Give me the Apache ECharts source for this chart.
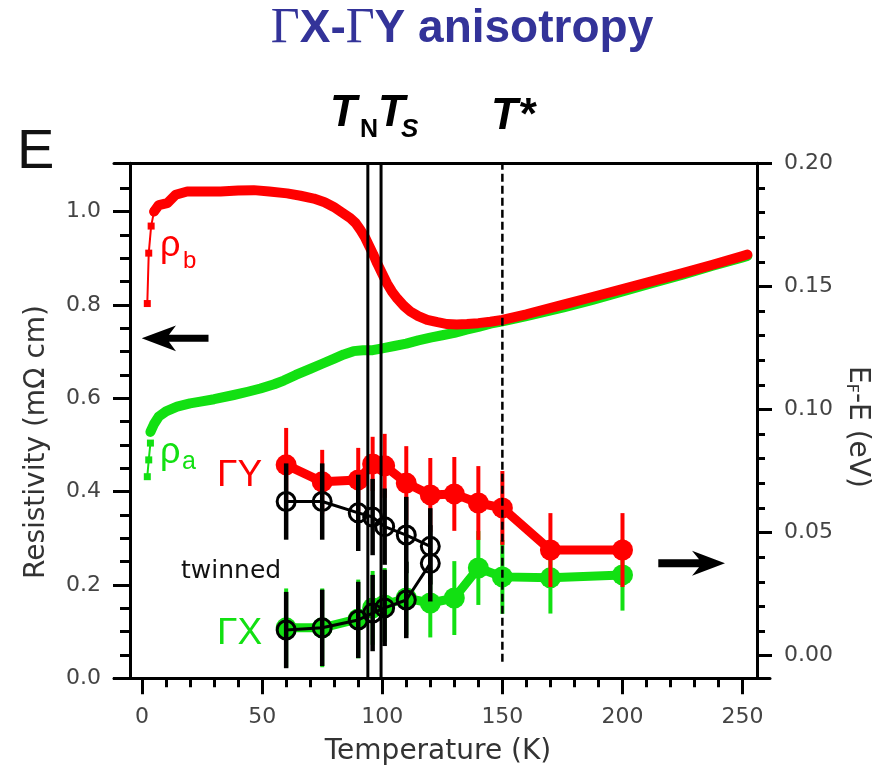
<!DOCTYPE html>
<html><head><meta charset="utf-8">
<script src="https://cdn.jsdelivr.net/npm/echarts@6/dist/echarts.min.js"></script>
<style>html,body{margin:0;padding:0;background:#fff}#c{width:882px;height:774px}</style>
</head><body><div id="c"></div>
<script>
// ---------- data ----------
// resistivity rho_b (red), low-T measured points and smooth curve
const rhoBLowT = [2.2, 2.8, 3.8, 5];
const rhoBLow  = [0.803, 0.911, 0.969, 1.000];
const rhoBT = [5, 7, 10.5, 14, 18.8, 25, 32.7, 40, 46.5, 53, 60.4, 66, 71.5, 76, 79.8, 83, 86.7, 89, 90.9, 92.7, 94.4, 96.2, 97.9, 100, 102, 104, 106.2, 109, 111.7, 115, 118.7, 123, 127, 131, 135.3, 140, 145, 150, 160, 175, 187.5, 200, 212.5, 225, 237.5, 250, 252];
const rhoB  = [1.000, 1.014, 1.018, 1.036, 1.043, 1.043, 1.043, 1.045, 1.046, 1.043, 1.039, 1.034, 1.028, 1.020, 1.010, 0.999, 0.986, 0.975, 0.961, 0.946, 0.928, 0.909, 0.889, 0.867, 0.846, 0.829, 0.814, 0.798, 0.786, 0.776, 0.768, 0.763, 0.759, 0.758, 0.759, 0.761, 0.764, 0.768, 0.780, 0.800, 0.817, 0.834, 0.851, 0.868, 0.886, 0.905, 0.908];
// resistivity rho_a (green)
const rhoALowT = [2.2, 2.8, 3.5];
const rhoALow  = [0.432, 0.468, 0.504];
const rhoAT = [3.5, 5, 7, 10, 14.6, 20, 24.3, 30, 38.2, 44, 49.3, 55, 59, 64, 70, 75, 80, 84, 88, 92, 96, 100, 105, 110, 115, 120, 125, 130, 135, 140, 145, 150, 160, 175, 187.5, 200, 212.5, 225, 237.5, 250, 252];
const rhoA  = [0.528, 0.545, 0.561, 0.572, 0.582, 0.589, 0.593, 0.598, 0.607, 0.614, 0.621, 0.630, 0.638, 0.650, 0.663, 0.674, 0.685, 0.694, 0.701, 0.703, 0.703, 0.707, 0.712, 0.717, 0.724, 0.730, 0.735, 0.740, 0.747, 0.753, 0.760, 0.765, 0.776, 0.794, 0.811, 0.829, 0.847, 0.865, 0.884, 0.902, 0.905];
// ARPES band positions E_F - E (eV)
const arpesT = [60, 75, 90, 96, 101, 110, 120, 130, 140, 150, 170, 200];
const gammaY    = [0.0775, 0.0706, 0.0714, 0.0779, 0.0771, 0.0701, 0.0653, 0.0657, 0.0620, 0.0600, 0.0429, 0.0429];
const gammaYErr = [0.015, 0.013, 0.013, 0.011, 0.013, 0.015, 0.015, 0.015, 0.015, 0.015, 0.015, 0.015];
const gammaX    = [0.0113, 0.0113, 0.0149, 0.0194, 0.0206, 0.0234, 0.0214, 0.0234, 0.0356, 0.0320, 0.0316, 0.0328];
const gammaXErr = [0.016, 0.016, 0.016, 0.015, 0.015, 0.015, 0.014, 0.015, 0.015, 0.015, 0.0145, 0.0145];
// twinned sample
const twinT     = [60, 75, 90, 96, 101, 110, 120];
const twinUpper = [0.0626, 0.0626, 0.0580, 0.0563, 0.0524, 0.0490, 0.0444];
const twinLower = [0.0104, 0.0113, 0.0145, 0.0173, 0.0194, 0.0226, 0.0375];
const twinErr   = [0.0155, 0.0155, 0.0155, 0.0155, 0.0155, 0.0155, 0.0155];
// transition temperatures
const transT = [94, 99.5];   // T_N, T_S
const tStar = [150];
const tStarRange = [0.0356, 1.1035];
// axes
const xMajor = [0, 50, 100, 150, 200, 250];
const xMinor = [10, 20, 30, 40, 60, 70, 80, 90, 110, 120, 130, 140, 160, 170, 180, 190, 210, 220, 230, 240];
const yLeftMajor = [0, 0.2, 0.4, 0.6, 0.8, 1.0];
const yLeftMinor = [0.05, 0.1, 0.15, 0.25, 0.3, 0.35, 0.45, 0.5, 0.55, 0.65, 0.7, 0.75, 0.85, 0.9, 0.95, 1.05];
const yRightMajor = [0, 0.05, 0.10, 0.15, 0.20];
const yRightMinor = [0.01, 0.02, 0.03, 0.04, 0.06, 0.07, 0.08, 0.09, 0.11, 0.12, 0.13, 0.14, 0.16, 0.17, 0.18, 0.19];
const X_MIN = -11.66, X_MAX = 261.4;
const L_MIN = 0, L_MAX = 1.1035;
const R_MIN = -0.0092, R_MAX = 0.20;

// ---------- chart ----------
const RED = '#ff0000', GREEN = '#12e012', BLACK = '#000000';
const FONT = 'DejaVu Sans';
const zip = (a, b) => a.map((v, i) => [v, b[i]]);

function errBars(T, V, E, color, width, yIdx, z) {
  return {
    type: 'custom', xAxisIndex: 0, yAxisIndex: yIdx, z: z, silent: true, clip: false,
    data: T.map((t, i) => [t, V[i] - E[i], V[i] + E[i]]),
    encode: { x: 0, y: [1, 2] },
    renderItem: (params, api) => {
      const a = api.coord([api.value(0), api.value(1)]);
      const b = api.coord([api.value(0), api.value(2)]);
      return { type: 'line', shape: { x1: a[0], y1: a[1], x2: b[0], y2: b[1] },
               style: { stroke: color, lineWidth: width } };
    }
  };
}
function vLines(T, lo, hi, dashed, z) {
  return {
    type: 'custom', xAxisIndex: 0, yAxisIndex: 0, z: z, silent: true, clip: false,
    data: T.map(t => [t, lo, hi]),
    encode: { x: 0, y: [1, 2] },
    renderItem: (params, api) => {
      const a = api.coord([api.value(0), api.value(1)]);
      const b = api.coord([api.value(0), api.value(2)]);
      return { type: 'line', shape: { x1: a[0], y1: a[1], x2: b[0], y2: b[1] },
               style: { stroke: BLACK, lineWidth: dashed ? 2.5 : 3, lineDash: dashed ? [8, 4] : null } };
    }
  };
}

const GL = 114, GR = 770, GT = 163.3, GB = 678.3;
const tickLbl = { color: '#444', fontSize: 22, fontFamily: FONT };
const blackLine = { color: BLACK, width: 3 };

const chart = echarts.init(document.getElementById('c'), null, { renderer: 'canvas' });
const option = {
  animation: false,
  backgroundColor: '#fff',
  grid: { left: GL, top: GT, width: GR - GL, height: GB - GT, containLabel: false, outerBoundsMode: 'none' },
  xAxis: [
    { type: 'value', position: 'bottom', min: X_MIN, max: X_MAX,
      axisLine: { show: true, onZero: false, lineStyle: blackLine },
      axisTick: { show: true, inside: false, length: 16, lineStyle: blackLine, customValues: xMajor },
      axisLabel: Object.assign({ show: true, customValues: xMajor, margin: 28, formatter: v => String(v) }, tickLbl),
      splitLine: { show: false } },
    { type: 'value', position: 'bottom', min: X_MIN, max: X_MAX,
      axisLine: { show: false, onZero: false },
      axisTick: { show: true, inside: false, length: 9, lineStyle: blackLine, customValues: xMinor },
      axisLabel: { show: false }, splitLine: { show: false } },
    { type: 'value', position: 'top', min: X_MIN, max: X_MAX,
      axisLine: { show: true, onZero: false, lineStyle: blackLine },
      axisTick: { show: false }, axisLabel: { show: false }, splitLine: { show: false } }
  ],
  yAxis: [
    { type: 'value', position: 'left', offset: -16, min: L_MIN, max: L_MAX,
      axisLine: { show: true, onZero: false, lineStyle: blackLine },
      axisTick: { show: true, inside: false, length: 17, lineStyle: blackLine, customValues: yLeftMajor },
      axisLabel: Object.assign({ show: true, customValues: yLeftMajor, margin: 29, formatter: v => v.toFixed(1) }, tickLbl),
      splitLine: { show: false } },
    { type: 'value', position: 'left', offset: -16, min: L_MIN, max: L_MAX,
      axisLine: { show: false, onZero: false },
      axisTick: { show: true, inside: false, length: 10, lineStyle: blackLine, customValues: yLeftMinor },
      axisLabel: { show: false }, splitLine: { show: false } },
    { type: 'value', position: 'right', offset: -13, min: R_MIN, max: R_MAX,
      axisLine: { show: true, onZero: false, lineStyle: blackLine },
      axisTick: { show: true, inside: false, length: 15, lineStyle: blackLine, customValues: yRightMajor },
      axisLabel: Object.assign({ show: true, customValues: yRightMajor, margin: 27, formatter: v => v.toFixed(2) }, tickLbl),
      splitLine: { show: false } },
    { type: 'value', position: 'right', offset: -13, min: R_MIN, max: R_MAX,
      axisLine: { show: false, onZero: false },
      axisTick: { show: true, inside: false, length: 8, lineStyle: blackLine, customValues: yRightMinor },
      axisLabel: { show: false }, splitLine: { show: false } }
  ],
  series: [
    { name: 'rho_a low', type: 'line', xAxisIndex: 0, yAxisIndex: 0, z: 2, data: zip(rhoALowT, rhoALow),
      symbol: 'rect', symbolSize: 7, showSymbol: true, itemStyle: { color: GREEN },
      lineStyle: { color: GREEN, width: 2 } },
    { name: 'rho_a', type: 'line', xAxisIndex: 0, yAxisIndex: 0, z: 2, data: zip(rhoAT, rhoA),
      showSymbol: false, symbol: 'none', lineStyle: { color: GREEN, width: 10, join: 'round', cap: 'round' } },
    { name: 'rho_b low', type: 'line', xAxisIndex: 0, yAxisIndex: 0, z: 3, data: zip(rhoBLowT, rhoBLow),
      symbol: 'rect', symbolSize: 7, showSymbol: true, itemStyle: { color: RED },
      lineStyle: { color: RED, width: 2 } },
    { name: 'rho_b', type: 'line', xAxisIndex: 0, yAxisIndex: 0, z: 3, data: zip(rhoBT, rhoB),
      showSymbol: false, symbol: 'none', lineStyle: { color: RED, width: 10, join: 'round', cap: 'round' } },
    errBars(arpesT, gammaX, gammaXErr, GREEN, 4, 2, 4),
    { name: 'GX', type: 'line', xAxisIndex: 0, yAxisIndex: 2, z: 5, data: zip(arpesT, gammaX),
      symbol: 'circle', symbolSize: 21, itemStyle: { color: GREEN },
      lineStyle: { color: GREEN, width: 9 } },
    errBars(arpesT, gammaY, gammaYErr, RED, 4, 2, 6),
    { name: 'GY', type: 'line', xAxisIndex: 0, yAxisIndex: 2, z: 7, data: zip(arpesT, gammaY),
      symbol: 'circle', symbolSize: 21, itemStyle: { color: RED },
      lineStyle: { color: RED, width: 9 } },
    errBars(twinT, twinUpper, twinErr, BLACK, 4.5, 2, 8),
    errBars(twinT, twinLower, twinErr, BLACK, 4.5, 2, 8),
    { name: 'twinned', type: 'line', xAxisIndex: 0, yAxisIndex: 2, z: 9,
      data: zip(twinT, twinUpper).concat(zip(twinT, twinLower).reverse()),
      symbol: 'circle', symbolSize: 18,
      itemStyle: { color: 'rgba(0,0,0,0)', borderColor: BLACK, borderWidth: 3 },
      lineStyle: { color: BLACK, width: 3 } },
    vLines(transT, L_MIN, L_MAX, false, 10),
    vLines(tStar, tStarRange[0], tStarRange[1], true, 10)
  ],
  graphic: [
    { type: 'text', x: 462, y: 29, z: 100, style: {
        text: '{g|Γ}{b|X-}{g|Γ}{b|Y anisotropy}', align: 'center', verticalAlign: 'middle',
        rich: { g: { fontFamily: 'Liberation Serif', fontSize: 50, fill: '#333399', color: '#333399' },
                b: { fontFamily: 'Liberation Sans', fontWeight: 'bold', fontSize: 46, fill: '#333399', color: '#333399' } } } },
    { type: 'text', x: 17, y: 153, z: 100, style: { text: 'E', font: '56px Liberation Sans', fill: '#111', align: 'left', verticalAlign: 'middle' } },
    { type: 'text', x: 330, y: 114, z: 100, style: { text: 'T', font: 'italic bold 44px Liberation Sans', fill: '#000', align: 'left', verticalAlign: 'middle' } },
    { type: 'text', x: 360, y: 130, z: 100, style: { text: 'N', font: 'bold 25px Liberation Sans', fill: '#000', align: 'left', verticalAlign: 'middle' } },
    { type: 'text', x: 378, y: 114, z: 100, style: { text: 'T', font: 'italic bold 44px Liberation Sans', fill: '#000', align: 'left', verticalAlign: 'middle' } },
    { type: 'text', x: 401, y: 130, z: 100, style: { text: 'S', font: 'italic bold 26px Liberation Sans', fill: '#000', align: 'left', verticalAlign: 'middle' } },
    { type: 'text', x: 491, y: 117, z: 100, style: { text: 'T*', font: 'italic bold 44px Liberation Sans', fill: '#000', align: 'left', verticalAlign: 'middle' } },
    { type: 'text', x: 160, y: 246, z: 100, style: { text: 'ρ', font: '36px Liberation Sans', fill: RED, align: 'left', verticalAlign: 'middle' } },
    { type: 'text', x: 183, y: 261, z: 100, style: { text: 'b', font: '24px Liberation Sans', fill: RED, align: 'left', verticalAlign: 'middle' } },
    { type: 'text', x: 160, y: 453, z: 100, style: { text: 'ρ', font: '36px Liberation Sans', fill: GREEN, align: 'left', verticalAlign: 'middle' } },
    { type: 'text', x: 182, y: 462, z: 100, style: { text: 'a', font: '25px Liberation Sans', fill: GREEN, align: 'left', verticalAlign: 'middle' } },
    { type: 'text', x: 217, y: 476, z: 100, style: { text: 'ΓY', font: '37px Liberation Sans', fill: RED, align: 'left', verticalAlign: 'middle' } },
    { type: 'text', x: 217, y: 634, z: 100, style: { text: 'ΓX', font: '37px Liberation Sans', fill: GREEN, align: 'left', verticalAlign: 'middle' } },
    { type: 'text', x: 181, y: 571, z: 100, style: { text: 'twinned', font: '25px DejaVu Sans', fill: '#111', align: 'left', verticalAlign: 'middle' } },
    { type: 'text', x: 438, y: 752, z: 100, style: { text: 'Temperature (K)', font: '28px DejaVu Sans', fill: '#333', align: 'center', verticalAlign: 'middle' } },
    { type: 'text', x: 37, y: 442, rotation: Math.PI / 2, z: 100, style: { text: 'Resistivity (mΩ cm)', font: '28px DejaVu Sans', fill: '#333', align: 'center', verticalAlign: 'middle' } },
    { type: 'text', x: 857, y: 427, rotation: -Math.PI / 2, z: 100, style: {
        text: '{a|E}{s|F}{a|-E (eV)}', align: 'center', verticalAlign: 'middle',
        rich: { a: { fontFamily: FONT, fontSize: 28, lineHeight: 28, fill: '#333', color: '#333' },
                s: { fontFamily: FONT, fontSize: 16, lineHeight: 6, verticalAlign: 'bottom', fill: '#333', color: '#333' } } } },
    { type: 'polygon', z: 100, shape: { points: [[141.7, 338.3], [176, 325.5], [169, 334.8], [208.5, 334.8], [208.5, 341.8], [169, 341.8], [176, 351.2]] }, style: { fill: '#000' } },
    { type: 'polygon', z: 100, shape: { points: [[725, 563.3], [692, 550.8], [699, 559.3], [658.3, 559.3], [658.3, 567.3], [699, 567.3], [692, 575.8]] }, style: { fill: '#000' } }
  ]
};
chart.setOption(option);
</script></body></html>
